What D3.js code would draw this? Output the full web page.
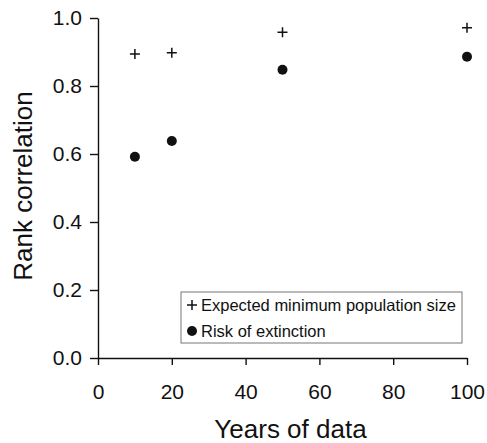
<!DOCTYPE html>
<html>
<head>
<meta charset="utf-8">
<script src="https://cdn.jsdelivr.net/npm/d3@7"></script>
<style>
  body { margin: 0; background: #fff; }
  text { font-family: "Liberation Sans", Arial, Helvetica, sans-serif; fill: #111; }
</style>
</head>
<body>
<div id="container"></div>
<script>
// years of data used for each estimate
const years = [10, 20, 50, 100];

// rank correlation for each measure
const minPopSize = [0.894, 0.898, 0.958, 0.971];
const extinctionRisk = [0.592, 0.638, 0.848, 0.886];

// tick labels
const xTicks = [0, 20, 40, 60, 80, 100];
const yTicks = [0, 0.2, 0.4, 0.6, 0.8, 1.0];

const seriesNames = ['Expected minimum population size', 'Risk of extinction'];

// chart dimensions
const w = 487;
const h = 443;
const margin = { top: 18, right: 20, bottom: 85, left: 98 };

const xScale = d3.scaleLinear()
    .domain([0, 100])
    .range([margin.left, 467]);

const yScale = d3.scaleLinear()
    .domain([0, 1])
    .range([358, margin.top]);

const svg = d3.select('#container')
    .append('svg')
    .attr('width', w)
    .attr('height', h);

// axes
const xAxis = d3.axisBottom(xScale)
    .tickValues(xTicks)
    .tickSize(7)
    .tickSizeOuter(0)
    .tickPadding(19);

const yAxis = d3.axisLeft(yScale)
    .tickValues(yTicks)
    .tickFormat(d3.format('.1f'))
    .tickSize(8)
    .tickSizeOuter(0)
    .tickPadding(8);

const gx = svg.append('g')
    .attr('transform', `translate(0, ${yScale(0)})`)
    .call(xAxis);

const gy = svg.append('g')
    .attr('transform', `translate(${xScale(0)}, 0)`)
    .call(yAxis);

[gx, gy].forEach(g => {
    g.selectAll('path, line').attr('stroke', '#111').attr('stroke-width', 1.4);
    g.selectAll('text').attr('font-size', 21).attr('fill', '#111');
});

// axis titles
svg.append('text')
    .attr('x', (xScale(0) + xScale(100)) / 2 + 8)
    .attr('y', 438)
    .attr('text-anchor', 'middle')
    .attr('font-size', 26)
    .text('Years of data');

svg.append('text')
    .attr('transform', `translate(32, ${yScale(0.5) - 2}) rotate(-90)`)
    .attr('text-anchor', 'middle')
    .attr('font-size', 26)
    .text('Rank correlation');

// plus markers
function plusPath(size) {
    const s = size / 2;
    return `M${-s},0H${s}M0,${-s}V${s}`;
}

svg.append('g')
    .selectAll('path')
    .data(years)
    .join('path')
    .attr('transform', (d, i) => `translate(${xScale(d)}, ${yScale(minPopSize[i])})`)
    .attr('d', plusPath(10))
    .attr('stroke', '#111')
    .attr('stroke-width', 1.5)
    .attr('fill', 'none');

svg.append('g')
    .selectAll('circle')
    .data(years)
    .join('circle')
    .attr('cx', d => xScale(d))
    .attr('cy', (d, i) => yScale(extinctionRisk[i]))
    .attr('r', 5)
    .attr('fill', '#111');

// legend
const legend = svg.append('g');

legend.append('rect')
    .attr('x', 181)
    .attr('y', 292)
    .attr('width', 281)
    .attr('height', 51)
    .attr('fill', '#fff')
    .attr('stroke', '#777')
    .attr('stroke-width', 1);

legend.append('path')
    .attr('transform', 'translate(192, 305)')
    .attr('d', plusPath(10))
    .attr('stroke', '#111')
    .attr('stroke-width', 1.5);

legend.append('circle')
    .attr('cx', 192)
    .attr('cy', 331)
    .attr('r', 5)
    .attr('fill', '#111');

legend.selectAll('text')
    .data(seriesNames)
    .join('text')
    .attr('x', 201)
    .attr('y', (d, i) => 311 + i * 26)
    .attr('font-size', 16.5)
    .text(d => d);
</script>
</body>
</html>
